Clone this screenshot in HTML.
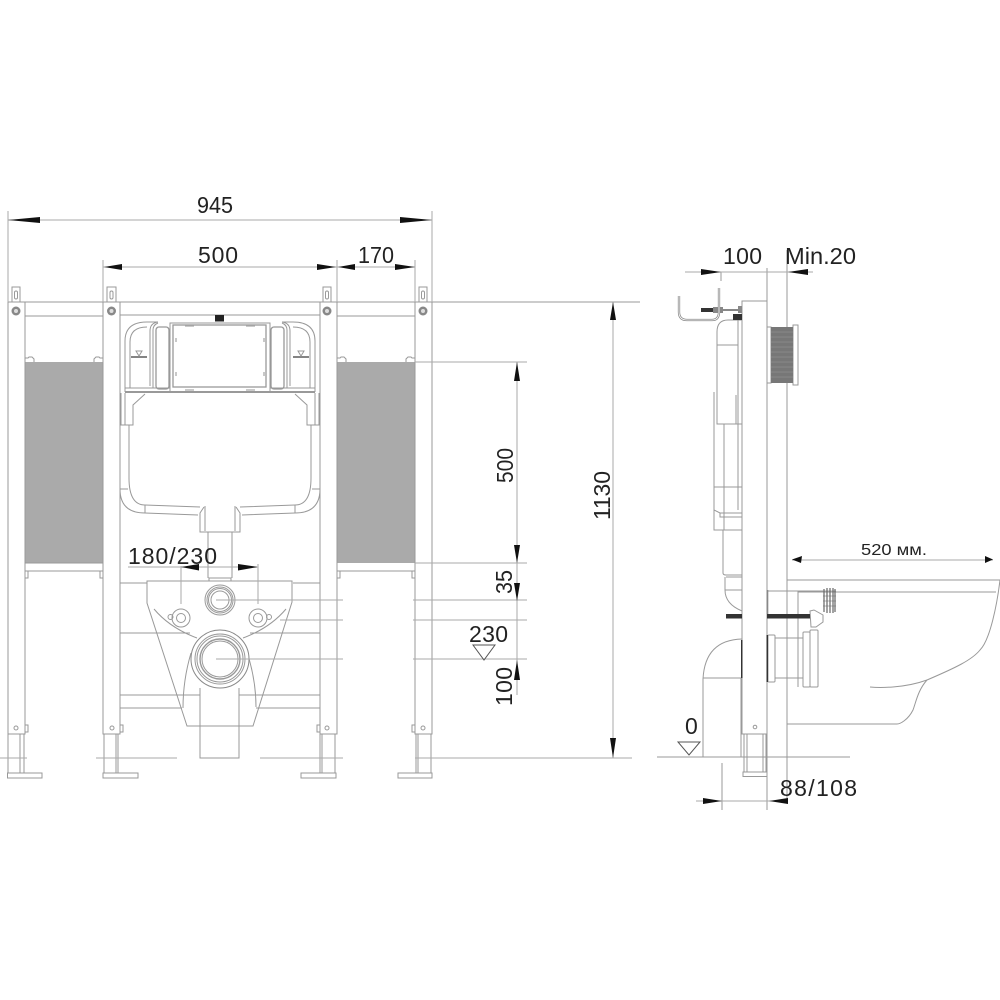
<!DOCTYPE html>
<html><head><meta charset="utf-8"><style>
html,body{margin:0;padding:0;background:#fff}
svg{display:block}
text{font-family:"Liberation Sans",sans-serif;fill:#222;font-size:23px}
.l{fill:none;stroke:#999;stroke-width:1}
.d{fill:none;stroke:#aaa;stroke-width:1}
</style></head><body>
<svg width="1000" height="1000" viewBox="0 0 1000 1000" xmlns="http://www.w3.org/2000/svg">
<rect width="1000" height="1000" fill="#fff"/>

<!-- gray panels -->
<rect x="25" y="362" width="78" height="201" fill="#aaa"/>
<rect x="337" y="362" width="78" height="201" fill="#aaa"/>

<!-- posts -->
<g class="l">
<path d="M8 302H640"/>
<path d="M8 302V734H25V302M103 302V734H120V302M320 302V734H337V302M415 302V734H432V302"/>
<path d="M25 316H103M337 316H415M25 571H103M337 571H415M25 563H103"/>
<path d="M25 353V362M25 358h3l1 -1h3l2 2v3M103 353V362M103 358h-3l-1 -1h-3l-2 2v3M337 353V362M337 358h3l1 -1h3l2 2v3M415 353V362M415 358h-3l-1 -1h-3l-2 2v3"/>
<!-- tabs -->
<path d="M12 302V287H20V302M107 302V287H116V302M323 302V287H331V302M419 302V287H427V302"/>
<rect x="14.500" y="291" width="3" height="8" rx="1.500"/><rect x="110" y="291" width="3" height="8" rx="1.500"/><rect x="325.500" y="291" width="3" height="8" rx="1.500"/><rect x="421.500" y="291" width="3" height="8" rx="1.500"/>
<!-- small clips -->
<rect x="25" y="571" width="3" height="7"/><rect x="100" y="571" width="3" height="7"/><rect x="337" y="571" width="3" height="7"/><rect x="412" y="571" width="3" height="7"/>
<rect x="25" y="725" width="3" height="7"/><rect x="120" y="725" width="3" height="7"/><rect x="317" y="725" width="3" height="7"/><rect x="412" y="725" width="3" height="7"/>
<circle cx="16" cy="728" r="2"/><circle cx="112" cy="728" r="2"/><circle cx="327" cy="728" r="2"/><circle cx="423" cy="728" r="2"/>
<!-- legs -->
<path d="M8 734V773M20 734V773M24 734V773M104 734V773M116 734V773M118 734V773M320 734V773M322 734V773M335 734V773M416 734V773M418 734V773M431 734V773"/>
<rect x="7.500" y="773" width="34.500" height="5"/><rect x="103" y="773" width="35" height="5"/><rect x="301" y="773" width="35" height="5"/><rect x="398" y="773" width="34" height="5"/>
</g>
<g fill="#888">
<circle cx="16" cy="311" r="4.500"/><circle cx="111.500" cy="311" r="4.500"/><circle cx="327" cy="311" r="4.500"/><circle cx="423" cy="311" r="4.500"/>
</g>
<g fill="#ddd"><circle cx="16" cy="311" r="2"/><circle cx="111.500" cy="311" r="2"/><circle cx="327" cy="311" r="2"/><circle cx="423" cy="311" r="2"/></g>

<!-- tank frame -->
<g class="l">
<path d="M120 315H320M120 583H147M293 583H320"/>
<rect x="170" y="323" width="100" height="69"/>
<rect x="173" y="325" width="93" height="62" stroke-width="1.300"/>
<path d="M125 392H315" stroke-width="2"/>
<path d="M125 388H170M270 388H315"/>
</g>
<rect x="215" y="315" width="9" height="6.500" fill="#222"/>
<g class="l">
<path d="M125 392V341Q125 322 147 322H158"/>
<path d="M130 388V342Q130 327 147 327"/>
<path d="M150 386V331Q150 323 158 322"/>
<path d="M153 388V330Q153 325 158 323"/>
<rect x="156" y="327" width="13" height="62" rx="3" stroke-width="1.300"/>
<path d="M121 393V425H133V405L145 394"/>
<path d="M125 393V425"/>
<path d="M129 425V478Q129 505 145 505L200 507"/>
<path d="M120 489H128M120 489Q120 513 145 513L198 515"/>
<path d="M145 505V513"/>
<path d="M204 507L200 513V532H220"/>
<path d="M205 506V531"/>
<path d="M131 357H147" stroke="#777" stroke-width="1.800"/>
<path d="M136 351H142L139 356Z"/>
<path d="M185 326h9M185 390h9M176 338v4M176 372v4" stroke="#aaa" stroke-width="1.300"/>
</g>
<g transform="translate(440 0) scale(-1 1)" class="l">
<path d="M125 392V341Q125 322 147 322H158"/>
<path d="M130 388V342Q130 327 147 327"/>
<path d="M150 386V331Q150 323 158 322"/>
<path d="M153 388V330Q153 325 158 323"/>
<rect x="156" y="327" width="13" height="62" rx="3" stroke-width="1.300"/>
<path d="M121 393V425H133V405L145 394"/>
<path d="M125 393V425"/>
<path d="M129 425V478Q129 505 145 505L200 507"/>
<path d="M120 489H128M120 489Q120 513 145 513L198 515"/>
<path d="M145 505V513"/>
<path d="M204 507L200 513V532H220"/>
<path d="M205 506V531"/>
<path d="M131 357H147" stroke="#777" stroke-width="1.800"/>
<path d="M136 351H142L139 356Z"/>
<path d="M185 326h9M185 390h9M176 338v4M176 372v4" stroke="#aaa" stroke-width="1.300"/>
</g>

<!-- pipe + bowl -->
<g class="l">
<path d="M208 532V578M232 532V578M209 578H231V581H209Z"/>
<path d="M147 581H292V602L253 726H187L147 603Z"/>
<path d="M154 609Q170 628 197 638M286 609Q270 628 243 638"/>
<path d="M191 653Q183 680 183 708M247 652Q256 680 256 707"/>
<path d="M120 633H190M250 633H320M120 633V695H200M320 633V695H239"/>
<path d="M120 708H182M256 708H320M120 708V726M320 708V726"/>
<path d="M200 688V758H239V688"/>
<circle cx="220" cy="600" r="15"/><circle cx="220" cy="600" r="13"/><circle cx="220" cy="600" r="11.500"/><circle cx="220" cy="600" r="9"/>
<circle cx="181" cy="618" r="9"/><circle cx="181" cy="618" r="4.500"/><circle cx="170.500" cy="617" r="2.500"/>
<circle cx="258" cy="618" r="9"/><circle cx="258" cy="618" r="4.500"/><circle cx="269" cy="617" r="2.500"/>
</g>
<circle cx="220" cy="659" r="29" fill="#fff" stroke="#888"/>
<g class="l">
<circle cx="220" cy="659" r="25"/><circle cx="220" cy="659" r="23"/>
<circle cx="220" cy="659" r="20" stroke-width="1.400"/><circle cx="220" cy="659" r="18"/>
</g>

<!-- center and extension lines front view -->
<g class="d">
<path d="M216 600H343M413 600H527M216 659H343M413 659H527M280 620H343M413 620H527M415 362H527M415 563H527M415 758H632M0 758H27M96 758H177M260 758H343"/>
<path d="M8 211V302M432 211V302M103 260V302M337 260V302M415 260V302"/>
<path d="M8 220H432M103 267H415"/>
<path d="M128 567H257M181 566V604M258 564V604"/>
<path d="M517 362V695M613 302V758"/>
</g>

<!-- arrows front view -->
<g fill="#111">
<polygon points="8,220 40,217 40,223"/>
<polygon points="432,220 400,217 400,223"/>
<polygon points="104,267 122,264 122,270"/>
<polygon points="336,267 317,264 317,270"/>
<polygon points="338,267 355,264 355,270"/>
<polygon points="415,267 395,264 395,270"/>
<polygon points="181,567 199,564 199,570.500"/>
<polygon points="258,567 238,564 238,570.500"/>
<polygon points="517,362 514,381 520,381"/>
<polygon points="517,563 514,545 520,545"/>
<polygon points="517,601 514,583 520,583"/>
<polygon points="517,660 514,680 520,680"/>
<polygon points="613,302 610,320 616,320"/>
<polygon points="613,758 610,738 616,738"/>
</g>
<polygon points="473,645 495,645 484,660" fill="none" stroke="#555"/>

<!-- side view -->
<g class="l">
<path d="M742 301H767V734H742Z" fill="#fff"/>
<path d="M767 268V810M787 250V801M721 272V281M722 763V810"/>
<path d="M744 734V772M747 734V772M763 734V772M766 734V772"/>
<rect x="743" y="772" width="24" height="4.500"/>
<circle cx="755" cy="727" r="1.800"/>
<path d="M679 296V312Q679 320 687 320H712Q719 320 719 312V288" stroke="#888" stroke-width="2.300"/>
<path d="M679 296V312Q679 320 687 320H712Q719 320 719 312V288" stroke="#fff" stroke-width=".8"/>
<path d="M742 320H728Q717 320 717 332V424H742M738 320V510M717 345H738"/>
<path d="M714 392V510L720 513H742M714 506V530H742M714 487H742M724 424V530M720 513V517H742M736 395V424"/>
<path d="M723 530V573Q723 575 726 575H742M726 577H742M725 577V590Q725 604 742 611M725 590H742"/>
<path d="M703 757V679Q705 640 742 639M703 678H742M741 678V757"/>
<path d="M657 757H850"/>
<path d="M768 591H823M798 591V687M787 580H1000M798 592H996M787 724H897"/>
<path d="M1000 580C997 605 990 640 980 650C972 660 955 668 927 680C905 688 880 688 870 687"/>
<path d="M927 680C918 690 916 702 913 710C908 720 900 724 897 724"/>
<path d="M775 638H803M775 678H803"/>
<rect x="768" y="635" width="7" height="47" rx="1"/>
<rect x="803" y="632" width="7" height="55" rx="1"/>
<rect x="810" y="630" width="8" height="57" rx="1"/>
<path d="M810 611L814 610L823 615V622L816 627H811Z"/>
<rect x="793" y="325" width="5" height="60"/>
<rect x="767" y="327" width="4" height="56"/>
</g>
<g fill="#333">
<rect x="733" y="314" width="9" height="6"/>
<rect x="701" y="308" width="12" height="4"/>
<rect x="726" y="614" width="16" height="4.500"/>
<rect x="767" y="614" width="43" height="4.500"/>
<rect x="766.500" y="635" width="1.500" height="47"/>
<rect x="741" y="640" width="1.500" height="38"/>
</g>
<g fill="#888">
<rect x="713" y="307" width="5" height="6"/><rect x="720" y="307" width="3" height="6"/><rect x="723" y="309" width="15" height="2"/><rect x="738" y="306" width="4" height="7"/>
<rect x="766.500" y="590" width="1.800" height="24"/>
</g>
<rect x="771" y="327" width="22" height="56" fill="#777"/>
<g stroke="#999" stroke-width=".5"><path d="M771 332H793M771 337H793M771 342H793M771 347H793M771 352H793M771 357H793M771 362H793M771 367H793M771 372H793M771 377H793"/></g>
<g fill="none" stroke="#666" stroke-width="1.200"><path d="M824 589V612M827 588V613M830 588V613M833 588V613M835 589V612"/><path d="M823 591H836M823 596H836M823 601H836M823 606H836" stroke-width=".5"/></g>

<!-- side dims -->
<g class="d">
<path d="M685 272H813M696 801H787M792 560H993"/>
</g>
<g fill="#111">
<polygon points="721,272 701,269 701,275"/>
<polygon points="788,272 808,269 808,275"/>
<polygon points="722,801 703,798 703,804"/>
<polygon points="769,801 788,798 788,804"/>
<polygon points="792,559.500 802,556 801,563"/>
<polygon points="993,559.500 985,556 985,563"/>
</g>
<polygon points="678,742 700,742 689,755" fill="none" stroke="#555"/>

<!-- text -->
<text x="197" y="213" textLength="36" lengthAdjust="spacingAndGlyphs">945</text>
<text x="198" y="263" textLength="40" lengthAdjust="spacing">500</text>
<text x="358" y="263" textLength="36" lengthAdjust="spacingAndGlyphs">170</text>
<text x="723" y="264" textLength="39" lengthAdjust="spacing">100</text>
<text x="785" y="264" textLength="71" lengthAdjust="spacingAndGlyphs">Min.20</text>
<text x="128" y="564" textLength="89" lengthAdjust="spacing">180/230</text>
<text x="469" y="642" textLength="39" lengthAdjust="spacing">230</text>
<text x="685" y="734">0</text>
<text x="780" y="796" textLength="77" lengthAdjust="spacing">88/108</text>
<text x="861" y="555" style="font-size:16px" textLength="66" lengthAdjust="spacingAndGlyphs">520 мм.</text>
<text transform="translate(513 483) rotate(-90)" textLength="35" lengthAdjust="spacingAndGlyphs">500</text>
<text transform="translate(512 594) rotate(-90)" textLength="24" lengthAdjust="spacingAndGlyphs">35</text>
<text transform="translate(512 706) rotate(-90)" textLength="39" lengthAdjust="spacing">100</text>
<text transform="translate(610 520) rotate(-90)" textLength="49" lengthAdjust="spacing">1130</text>
</svg>
</body></html>
